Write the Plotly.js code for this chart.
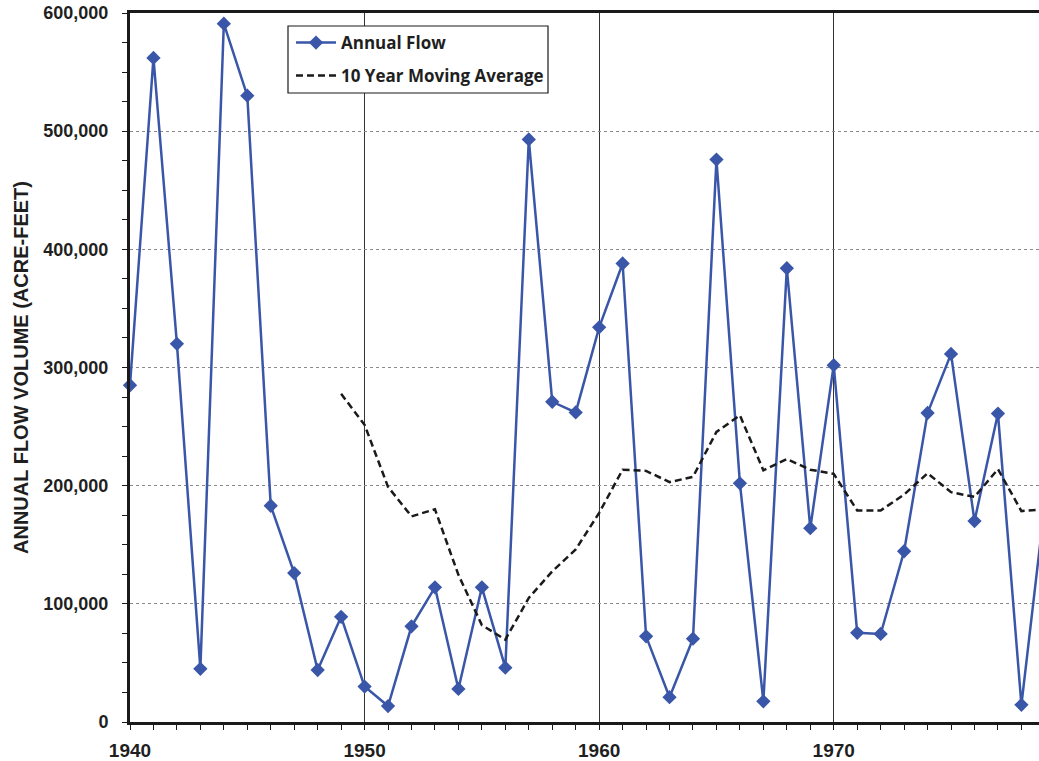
<!DOCTYPE html>
<html>
<head>
<meta charset="utf-8">
<script src="https://cdn.plot.ly/plotly-3.0.1.min.js"></script>
<style>
  html, body { margin: 0; padding: 0; background: #ffffff; }
  #chart { width: 1039px; height: 761px; }
</style>
</head>
<body>
<div id="chart"></div>
<script>
// ---- data ----
const years = [1940, 1941, 1942, 1943, 1944, 1945, 1946, 1947, 1948, 1949,
               1950, 1951, 1952, 1953, 1954, 1955, 1956, 1957, 1958, 1959,
               1960, 1961, 1962, 1963, 1964, 1965, 1966, 1967, 1968, 1969,
               1970, 1971, 1972, 1973, 1974, 1975, 1976, 1977, 1978, 1979];
const annualFlow = [285000, 562000, 320000, 45000, 591000, 530000, 183000, 126000, 44000, 89000,
                    30000, 13500, 81000, 114000, 28000, 114000, 46000, 493000, 271000, 262000,
                    334000, 388000, 72500, 21000, 70500, 476000, 202000, 17500, 384000, 164000,
                    302000, 75500, 74500, 144500, 261500, 311500, 170000, 261000, 14500, 185000];
const avgYears = [1949, 1950, 1951, 1952, 1953, 1954, 1955, 1956, 1957, 1958,
                  1959, 1960, 1961, 1962, 1963, 1964, 1965, 1966, 1967, 1968,
                  1969, 1970, 1971, 1972, 1973, 1974, 1975, 1976, 1977, 1978, 1979];
const movingAvg = [277700, 251500, 199000, 174000, 180000, 124500, 82000, 69700, 105000, 127500,
                   146000, 177000, 213500, 212500, 203000, 207500, 245500, 259500, 213000, 222500,
                   213500, 210000, 179000, 179000, 192500, 210500, 194500, 190500, 214000, 178500, 180000];
const seriesNames = ["Annual Flow", "10 Year Moving Average"];
const yTitle = "ANNUAL FLOW VOLUME (ACRE-FEET)";

const W = 1039, H = 761;
const mL = 130, mR = 0, mT = 13, mB = 39;
const pw = W - mL - mR, ph = H - mT - mB;
const px = (x) => (x - mL) / pw;
const py = (y) => 1 - (y - mT) / ph;

const axisFamily = "Liberation Sans, Arial, sans-serif";
const legendFont = { family: "'Open Sans', Lato, sans-serif", size: 17, color: "#1f1f1f", weight: "bold" };

const traces = [
  {
    x: years, y: annualFlow, name: seriesNames[0], type: "scatter", mode: "lines+markers",
    line: { color: "#3a56a8", width: 2.5 },
    marker: { symbol: "diamond", size: 11, color: "#3a56a8" },
    cliponaxis: false,
    legend: "legend"
  },
  {
    x: avgYears, y: movingAvg, name: seriesNames[1], type: "scatter", mode: "lines",
    line: { color: "#1a1a1a", width: 2.5, dash: "7px,4px" },
    legend: "legend2"
  }
];

const layout = {
  width: W, height: H,
  margin: { l: mL, r: mR, t: mT, b: mB, pad: 0 },
  paper_bgcolor: "#ffffff", plot_bgcolor: "#ffffff",
  showlegend: true,
  xaxis: {
    range: [1940, 1978.75], dtick: 10, tick0: 1940,
    showline: true, linecolor: "#1a1a1a", linewidth: 3, mirror: true,
    ticks: "outside", ticklen: 5, tickwidth: 1, tickcolor: "#1a1a1a",
    minor: { dtick: 1, ticks: "outside", ticklen: 5, tickwidth: 1, tickcolor: "#1a1a1a", showgrid: false },
    showgrid: true, gridcolor: "#333333", gridwidth: 1,
    zeroline: false,
    tickfont: { family: axisFamily, size: 19, color: "#1f1f1f", weight: "bold" },
    ticklabelstandoff: 4,
    fixedrange: true
  },
  yaxis: {
    range: [0, 600000], dtick: 100000, tickformat: ",.0f",
    showline: true, linecolor: "#1a1a1a", linewidth: 3,
    ticks: "outside", ticklen: 5, tickwidth: 1, tickcolor: "#1a1a1a",
    minor: { dtick: 25000, ticks: "outside", ticklen: 5, tickwidth: 1, tickcolor: "#1a1a1a", showgrid: false },
    showgrid: true, gridcolor: "#8a8a8a", gridwidth: 1, griddash: "dot",
    zeroline: false,
    tickfont: { family: axisFamily, size: 18, color: "#1f1f1f", weight: "bold" },
    ticklabelstandoff: 10,
    title: { text: yTitle, font: { family: axisFamily, size: 20, color: "#1f1f1f", weight: "bold" }, standoff: 10 },
    fixedrange: true
  },
  legend: {
    x: px(291), y: py(43), xanchor: "left", yanchor: "middle", itemwidth: 40,
    bgcolor: "rgba(0,0,0,0)", borderwidth: 0, font: legendFont
  },
  legend2: {
    x: px(291), y: py(76), xanchor: "left", yanchor: "middle", itemwidth: 40,
    bgcolor: "rgba(0,0,0,0)", borderwidth: 0, font: legendFont
  },
  shapes: [
    { type: "rect", xref: "paper", yref: "paper", x0: px(288), x1: px(548), y0: py(93), y1: py(26),
      line: { color: "#1a1a1a", width: 1.2 }, fillcolor: "#ffffff", layer: "above" }
  ]
};

Plotly.newPlot("chart", traces, layout, { displayModeBar: false, staticPlot: true });
</script>
</body>
</html>
